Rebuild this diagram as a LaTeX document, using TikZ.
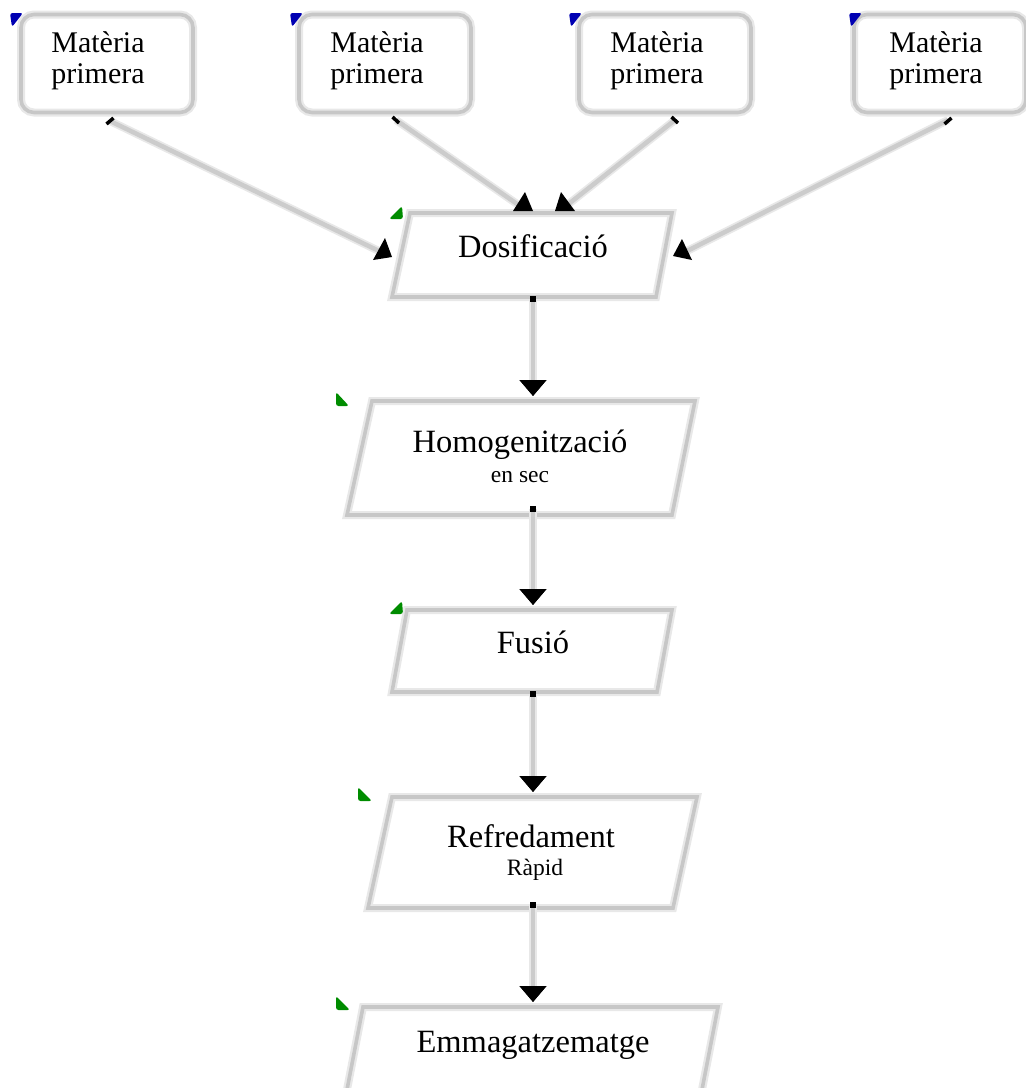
\documentclass[tikz,border=0pt]{standalone}
\usepackage{fontspec}
\setmainfont{Liberation Serif}
\usetikzlibrary{arrows.meta,calc}
\begin{document}
\begin{tikzpicture}[x=1pt,y=-1pt,
  frame/.style={draw=black!22, line width=3.6pt, preaction={draw=black!9, line width=8pt}},
  conn/.style={draw=black!20, line width=4.5pt, preaction={draw=black!9, line width=8pt}},
  tipline/.style={conn, -{Triangle[length=16pt,width=26pt,black]}},
  rawbox/.style={frame, rounded corners=13pt, minimum width=172pt, minimum height=98pt, inner sep=0pt},
  rawtxt/.style={font=\fontsize{30}{31}\selectfont, align=center, anchor=base, inner sep=0pt},
  steptxt/.style={font=\fontsize{32.5}{34}\selectfont, anchor=base, inner sep=0pt},
  subtxt/.style={font=\fontsize{23.5}{25}\selectfont, anchor=base, inner sep=0pt},
  tipfill/.style={fill=black},
  dotmark/.style={draw=black, line width=3.5pt},
  bluemark/.style={fill=blue!70!black, rounded corners=2.5pt},
  greenmark/.style={fill=green!55!black, rounded corners=2.5pt}
]
\useasboundingbox (0,0) rectangle (1026,1088);

% raw material boxes
\foreach \i/\cx/\tx in {1/107/98, 2/385/377, 3/665/657, 4/940/936}{
  \node[rawbox] (m\i) at (\cx,63.5) {};
  \node[rawtxt] (m\i t) at (\tx,83) {Matèria\\primera};
}
% blue markers
\foreach \x in {10, 290, 569, 849}{
  \fill[bluemark] (\x,13) -- (\x+13,13) -- (\x+2,27) -- cycle;
}

% process shapes (parallelograms)
\draw[frame] (410,213) -- (672,213) -- (656,297) -- (392,297) -- cycle;
\draw[frame] (372,401) -- (695,401) -- (672,515) -- (347,515) -- cycle;
\draw[frame] (407,610) -- (672,610) -- (657,692) -- (392,692) -- cycle;
\draw[frame] (392,797) -- (697,797) -- (673,908) -- (368,908) -- cycle;
\draw[frame] (363,1007) -- (718,1007) -- (700,1100) -- (345,1100) -- cycle;

% green markers
\fill[greenmark] (389,219) -- (403,219) -- (402,206) -- cycle;
\fill[greenmark] (336,392) -- (336,406) -- (349,406) -- cycle;
\fill[greenmark] (389,614) -- (403,614) -- (402,601) -- cycle;
\fill[greenmark] (358,787) -- (358,801) -- (372,801) -- cycle;
\fill[greenmark] (336,996) -- (336,1010) -- (350,1010) -- cycle;

% texts
\node[steptxt] (dos) at (533,257) {Dosificació};
\node[steptxt] (hom) at (520,452) {Homogenització};
\node[subtxt] (homs) at (520,482) {en sec};
\node[steptxt] (fus) at (533,653) {Fusió};
\node[steptxt] (ref) at (531,847) {Refredament};
\node[subtxt] (refs) at (535,875) {Ràpid};
\node[steptxt] (emm) at (533,1052) {Emmagatzematge};

% connector end points
\coordinate (o1) at (110,121);
\coordinate (o2) at (396,120);
\coordinate (o3) at (675,120);
\coordinate (o4) at (948,120);
\coordinate (dL) at (381,252);
\coordinate (dT1) at (520,206);
\coordinate (dT2) at (566,206);
\coordinate (dR) at (685,252);
\coordinate (dB) at (533,299);
\coordinate (hT) at (533,396);
\coordinate (hB) at (533,509);
\coordinate (fT) at (533,605);
\coordinate (fB) at (533,694);
\coordinate (rT) at (533,792);
\coordinate (rB) at (533,905);
\coordinate (eT) at (533,1002);

% connectors from raw materials
\draw[conn] (o1) -- (dL);
\draw[conn] (o2) -- (dT1);
\draw[conn] (o3) -- (dT2);
\draw[conn] (o4) -- (dR);
\fill[tipfill] (385,238) -- (392,257) -- (373,260) -- cycle;
\fill[tipfill] (525,192) -- (533,211) -- (513,211) -- cycle;
\fill[tipfill] (561,192) -- (575,211) -- (555,211) -- cycle;
\fill[tipfill] (682,239) -- (692,260) -- (673,256) -- cycle;
\draw[dotmark] (106.5,124) -- (113.5,118);
\draw[dotmark] (392.5,117) -- (399,123);
\draw[dotmark] (671.5,117) -- (678,123);
\draw[dotmark] (944.5,124) -- (951.5,118);

% vertical flow
\draw[tipline] (dB) -- (hT);
\draw[tipline] (hB) -- (fT);
\draw[tipline] (fB) -- (rT);
\draw[tipline] (rB) -- (eT);
\foreach \c in {dB,hB,fB,rB}{
  \fill[black] ($(\c)+(-3,-3)$) rectangle ($(\c)+(3,3)$);
}
\end{tikzpicture}
\end{document}
